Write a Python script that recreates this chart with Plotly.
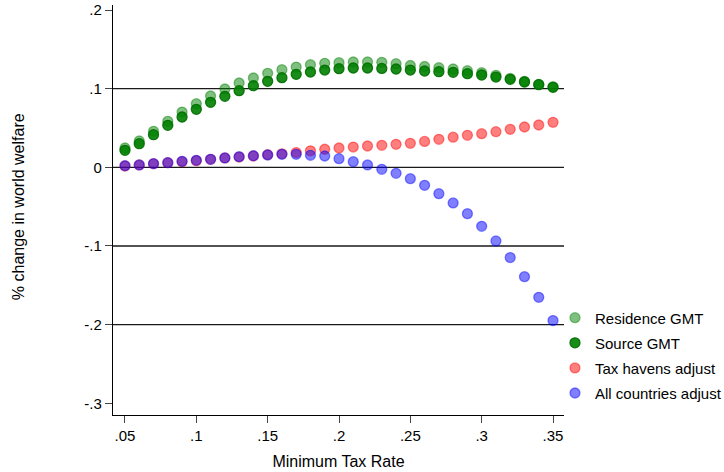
import plotly.graph_objects as go

tax_rate = [round(0.05 + 0.01 * i, 2) for i in range(31)]

residence_gmt = [0.0246, 0.0335, 0.0458, 0.0585, 0.0703, 0.0809, 0.0907, 0.0996, 0.1072, 0.1136,
                 0.1195, 0.1242, 0.1275, 0.1305, 0.1322, 0.1331, 0.1339, 0.1339, 0.1335, 0.1318,
                 0.1295, 0.1282, 0.1267, 0.1250, 0.1229, 0.1203, 0.1170, 0.1131, 0.1093, 0.1055, 0.1025]
source_gmt = [0.0216, 0.0301, 0.0415, 0.0534, 0.0640, 0.0737, 0.0826, 0.0903, 0.0975, 0.1038,
              0.1093, 0.1140, 0.1182, 0.1212, 0.1237, 0.1254, 0.1263, 0.1263, 0.1258, 0.1250,
              0.1237, 0.1225, 0.1216, 0.1208, 0.1191, 0.1174, 0.1148, 0.1119, 0.1085, 0.1051, 0.1017]
tax_havens_adjust = [0.0017, 0.0030, 0.0047, 0.0059, 0.0072, 0.0085, 0.0102, 0.0119, 0.0131, 0.0144,
                     0.0161, 0.0172, 0.0188, 0.0210, 0.0230, 0.0246, 0.0258, 0.0271, 0.0280, 0.0292,
                     0.0305, 0.0330, 0.0356, 0.0384, 0.0407, 0.0428, 0.0453, 0.0483, 0.0513, 0.0538, 0.0572]
all_countries_adjust = [0.0021, 0.0030, 0.0047, 0.0059, 0.0076, 0.0089, 0.0102, 0.0119, 0.0136, 0.0148,
                        0.0157, 0.0165, 0.0165, 0.0153, 0.0144, 0.0110, 0.0072, 0.0030, -0.0025, -0.0076,
                        -0.0144, -0.0229, -0.0335, -0.0453, -0.0589, -0.0750, -0.0936, -0.1148, -0.1390, -0.1653, -0.1949]

series_names = ["Residence GMT", "Source GMT", "Tax havens adjust", "All countries adjust"]
series_fill = ["rgba(0,128,0,0.5)", "rgba(0,128,0,0.9)", "rgba(255,0,0,0.5)", "rgba(0,0,255,0.5)"]
series_line = ["rgba(0,128,0,0.45)", "rgba(0,110,0,0.9)", "rgba(255,0,0,0.45)", "rgba(0,0,255,0.45)"]

x_ticks = [0.05, 0.10, 0.15, 0.20, 0.25, 0.30, 0.35]
x_ticklabels = [".05", ".1", ".15", ".2", ".25", ".3", ".35"]
y_ticks = [0.2, 0.1, 0.0, -0.1, -0.2, -0.3]
y_ticklabels = [".2", ".1", "0", "-.1", "-.2", "-.3"]
grid_lines = [0.1, 0.0, -0.1, -0.2]

FONT = "Liberation Sans, Arial, sans-serif"

fig = go.Figure()
for i, (name, ys, fc, lc) in enumerate(zip(series_names,
                                           [residence_gmt, source_gmt, tax_havens_adjust, all_countries_adjust],
                                           series_fill, series_line)):
    fig.add_trace(go.Scatter(
        x=tax_rate, y=ys, mode="markers", name=name, legendgroup=f"g{i}",
        marker=dict(size=10, color=fc, line=dict(color=lc, width=1.3)),
    ))

for g in grid_lines:
    fig.add_hline(y=g, line=dict(color="#1a1a1a", width=1.3), layer="below")

fig.update_layout(
    width=724, height=472,
    margin=dict(l=113, r=160, t=5, b=57, autoexpand=False),
    paper_bgcolor="white", plot_bgcolor="white",
    font=dict(family=FONT, size=15, color="black"),
    showlegend=True,
    legend=dict(x=0.980, y=0.277, xanchor="left", yanchor="top",
                font=dict(size=15, family=FONT), bgcolor="rgba(0,0,0,0)",
                itemsizing="trace", tracegroupgap=2.6),
    xaxis=dict(range=[0.0416, 0.3577], tickvals=x_ticks, ticktext=x_ticklabels,
               showgrid=False, zeroline=False, showline=True, linecolor="black", linewidth=1.3,
               ticks="outside", ticklen=7, tickcolor="#444", tickwidth=1.3,
               tickfont=dict(size=15),
               title=dict(text="Minimum Tax Rate", font=dict(size=16), standoff=12)),
    yaxis=dict(range=[-0.3149, 0.2064], tickvals=y_ticks, ticktext=y_ticklabels,
               showgrid=False, zeroline=False, showline=True, linecolor="black", linewidth=1.3,
               ticks="outside", ticklen=7, tickcolor="#444", tickwidth=1.3,
               tickfont=dict(size=15)),
    annotations=[dict(text="% change in world welfare", textangle=-90,
                      xref="paper", yref="paper", x=-0.2106, y=0.507,
                      xanchor="center", yanchor="middle", showarrow=False,
                      font=dict(size=16, family=FONT))],
)

fig.write_html("out.html")
